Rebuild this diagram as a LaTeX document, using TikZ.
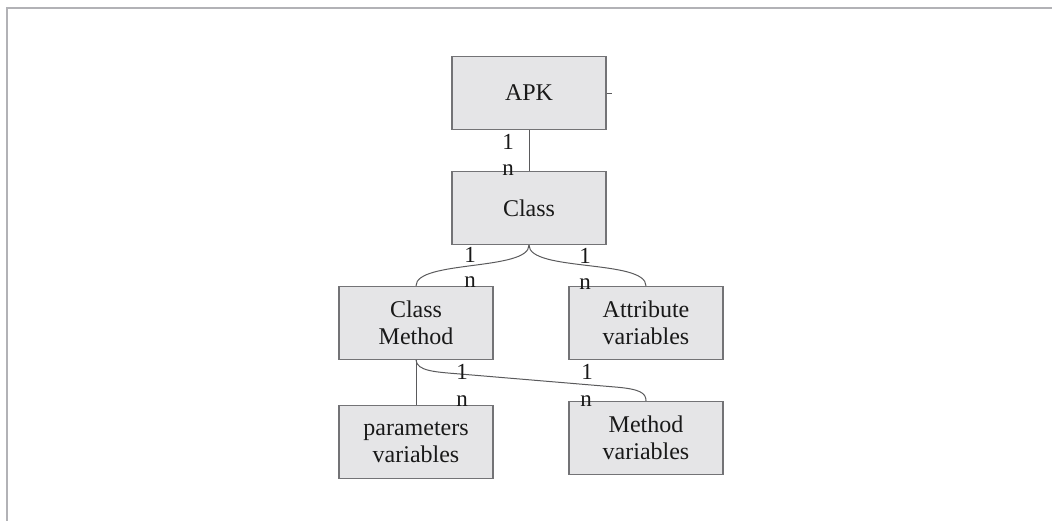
\documentclass[tikz,border=0pt]{standalone}
\usepackage{fontspec}
\setmainfont{Liberation Serif}
\usetikzlibrary{calc}
\begin{document}
\begin{tikzpicture}[x=1pt,y=1pt,
  box/.style={draw=boxline, fill=boxfill, line width=1.3pt, minimum width=154pt, minimum height=73pt, align=center, inner sep=0pt, font=\fontsize{24}{27}\selectfont, text=black!90},
  conn/.style={draw=connline, line width=1pt},
  card/.style={font=\fontsize{23}{24}\selectfont, inner sep=0pt, text=black!90}]
\definecolor{boxfill}{RGB}{229,229,231}
\definecolor{boxline}{RGB}{115,115,118}
\definecolor{connline}{RGB}{90,90,92}
\definecolor{frameline}{RGB}{178,178,182}
\useasboundingbox (0,0) rectangle (1052,-521);
\draw[frameline, line width=2pt] (7,-521) -- (7,-8) -- (1052,-8);
\node[box] (apk) at (529,-93) {APK};
\node[box] (cls) at (529,-208) {Class};
\node[box] (cm) at (416,-323) {Class\\Method};
\node[box] (attr) at (646,-323) {Attribute\\variables};
\node[box] (par) at (416,-442) {parameters\\variables};
\node[box] (mv) at (646,-438) {Method\\variables};
\coordinate (tick) at ($(apk.east)+(5,0)$);
\coordinate (ka) at (460,-374);
\coordinate (kb) at (615,-387);
\draw[conn, line width=0.8pt] (apk.east) -- (tick);
\draw[conn] (apk.south) -- (cls.north);
\draw[conn] (cls.south) to[out=-90,in=90,looseness=0.55] (cm.north);
\draw[conn] (cls.south) to[out=-90,in=90,looseness=0.55] (attr.north);
\draw[conn] (cm.south) -- (par.north);
\draw[conn] (cm.south) .. controls (417,-371) and (435,-372) .. (ka) -- (kb) .. controls (640,-389) and (646,-393) .. (mv.north);
\node[card] (l1) at (508,-142) {1};
\node[card] (n1) at (508,-170) {n};
\node[card] (l2) at (470,-255) {1};
\node[card] (n2) at (470,-282) {n};
\node[card] (l3) at (585,-256) {1};
\node[card] (n3) at (585,-284) {n};
\node[card] (l4) at (462,-372) {1};
\node[card] (n4) at (462,-401) {n};
\node[card] (l5) at (587,-372) {1};
\node[card] (n5) at (586,-401) {n};
\end{tikzpicture}
\end{document}
